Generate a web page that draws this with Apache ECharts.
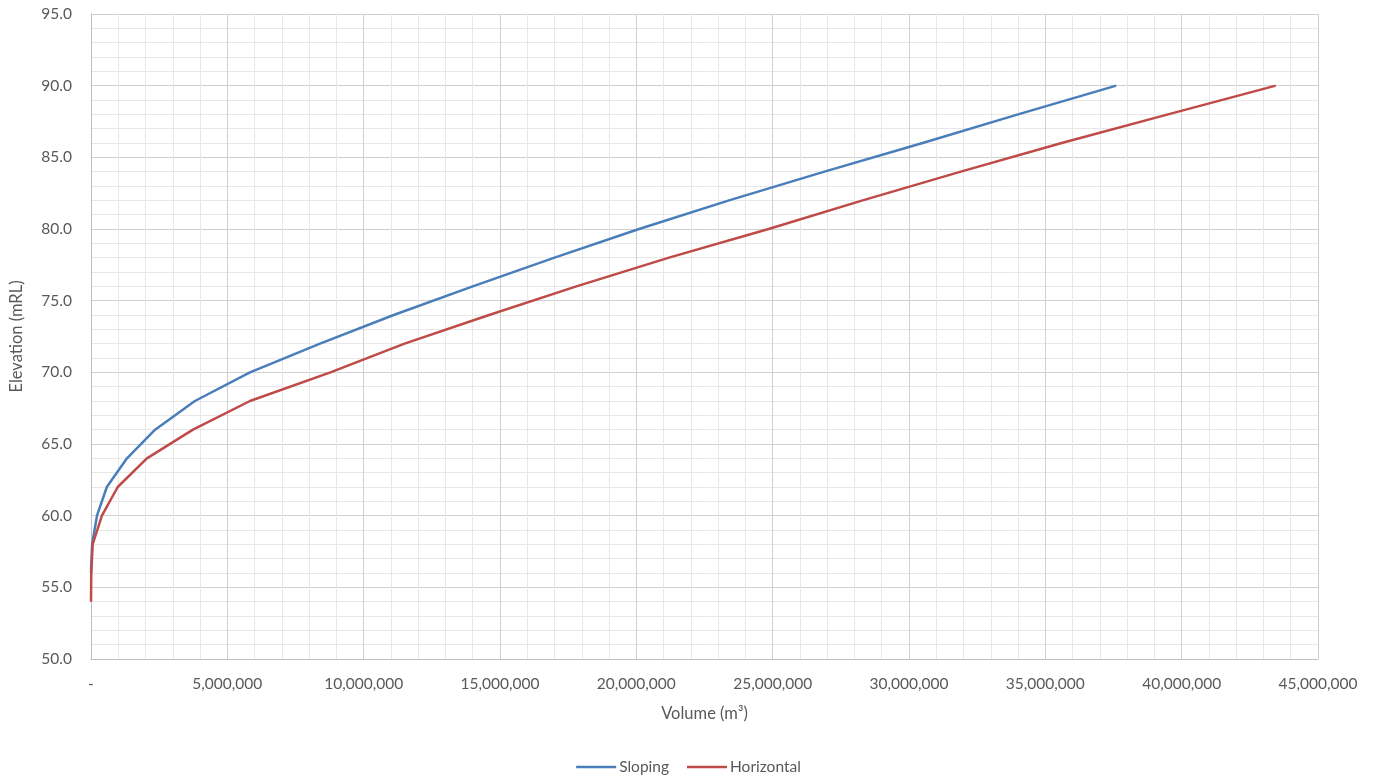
<!DOCTYPE html>
<html>
<head>
<meta charset="utf-8">
<script src="https://cdn.jsdelivr.net/npm/echarts@6/dist/echarts.min.js"></script>
<style>
html,body{margin:0;padding:0;background:#fff;}
#chart{width:1377px;height:781px;}
</style>
</head>
<body>
<div id="chart"></div>
<script>
// Elevation (mRL) at each data point
const elevations = [54, 56, 58, 60, 62, 64, 66, 68, 70, 72, 74, 76, 78, 80, 82, 84, 86, 88, 90];
// Volume (m3) for Sloping case (null = no point)
const slopingVolumes = [null, 0, 40000, 220000, 580000, 1320000, 2350000, 3810000, 5830000, 8400000, 11100000, 14000000, 17000000, 20100000, 23400000, 26900000, 30500000, 34000000, 37600000];
// Volume (m3) for Horizontal case
const horizontalVolumes = [0, 10000, 60000, 400000, 980000, 2050000, 3740000, 5830000, 8780000, 11500000, 14600000, 17800000, 21200000, 24850000, 28300000, 31900000, 35600000, 39500000, 43450000];
const seriesNames = ['Sloping', 'Horizontal'];
const yTicks = { min: 50, max: 95, interval: 5 };
const xTicks = { min: 0, max: 45000000, interval: 5000000 };

function pairs(vols) {
  const out = [];
  vols.forEach((v, i) => { if (v !== null) out.push([v, elevations[i]]); });
  return out;
}

const fontFamily = 'Lato, "Open Sans", sans-serif';
const textColor = '#595959';

const chart = echarts.init(document.getElementById('chart'), null, { renderer: 'canvas' });
chart.setOption({
  animation: false,
  backgroundColor: '#ffffff',
  grid: { left: 91, right: 59, top: 14, bottom: 122, containLabel: false },
  legend: {
    bottom: 1,
    left: 'center',
    icon: 'rect',
    itemWidth: 40,
    itemHeight: 2.5,
    itemGap: 18,
    textStyle: { color: textColor, fontSize: 15.5, fontFamily: fontFamily, padding: [0, 0, 0, -2] },
    data: seriesNames
  },
  xAxis: {
    type: 'value',
    min: xTicks.min, max: xTicks.max, interval: xTicks.interval,
    name: 'Volume (m³)',
    nameLocation: 'middle',
    nameGap: 46,
    nameTextStyle: { color: textColor, fontSize: 16.5, fontFamily: fontFamily },
    axisLine: { show: true, lineStyle: { color: '#bfbfbf', width: 1 } },
    axisTick: { show: false },
    minorTick: { show: true, splitNumber: 5, length: 0 },
    minorSplitLine: { show: true, lineStyle: { color: '#e8e8e8', width: 1 } },
    splitLine: { show: true, lineStyle: { color: '#d0d0d0', width: 1 } },
    axisLabel: {
      color: textColor, fontSize: 15.5, fontFamily: fontFamily, margin: 17,
      formatter: v => v === 0 ? '-' : v.toLocaleString('en-US')
    }
  },
  yAxis: {
    type: 'value',
    min: yTicks.min, max: yTicks.max, interval: yTicks.interval,
    name: 'Elevation (mRL)',
    nameLocation: 'middle',
    nameGap: 66,
    nameRotate: 90,
    nameTextStyle: { color: textColor, fontSize: 16.5, fontFamily: fontFamily },
    axisLine: { show: true, lineStyle: { color: '#bfbfbf', width: 1 } },
    axisTick: { show: false },
    minorTick: { show: true, splitNumber: 5, length: 0 },
    minorSplitLine: { show: true, lineStyle: { color: '#e8e8e8', width: 1 } },
    splitLine: { show: true, lineStyle: { color: '#d0d0d0', width: 1 } },
    axisLabel: {
      color: textColor, fontSize: 15.5, fontFamily: fontFamily, margin: 19,
      formatter: v => v.toFixed(1)
    }
  },
  series: [
    {
      name: seriesNames[0], type: 'line', data: pairs(slopingVolumes),
      symbol: 'none', smooth: false,
      lineStyle: { color: '#4a7ebb', width: 2.5 }, itemStyle: { color: '#4a7ebb' }
    },
    {
      name: seriesNames[1], type: 'line', data: pairs(horizontalVolumes),
      symbol: 'none', smooth: false,
      lineStyle: { color: '#be4b48', width: 2.5 }, itemStyle: { color: '#be4b48' }
    }
  ]
});
</script>
</body>
</html>
